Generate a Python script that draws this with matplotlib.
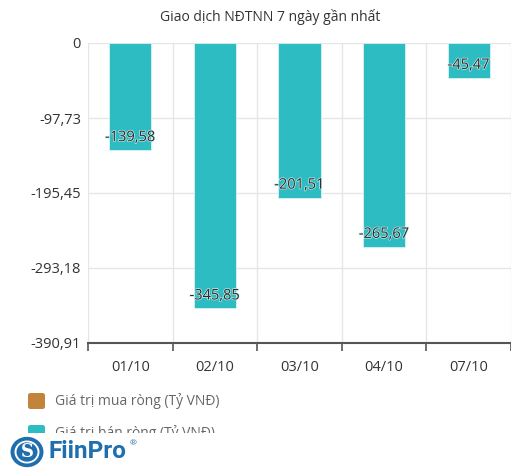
import matplotlib.pyplot as plt
import matplotlib.patheffects as pe
from matplotlib.patches import FancyBboxPatch, Rectangle, Circle

dates = ["01/10", "02/10", "03/10", "04/10", "07/10"]
net_sell = [-139.58, -345.85, -201.51, -265.67, -45.47]
yticks = [0, -97.73, -195.45, -293.18, -390.91]
title = "Giao dịch NĐTNN 7 ngày gần nhất"
legend_labels = ["Giá trị mua ròng (Tỷ VNĐ)", "Giá trị bán ròng (Tỷ VNĐ)"]

teal = "#2ebcc3"
brown = "#c2843a"
W, H = 511, 470

plt.rcParams["font.family"] = ["Open Sans", "DejaVu Sans"]

fig = plt.figure(figsize=(W / 100, H / 100), dpi=100)
ax = fig.add_axes([88 / W, 1 - 343 / H, (W - 88) / W, 300 / H])

x = range(len(dates))
ax.bar(x, net_sell, width=0.5, color=teal, edgecolor="#d8f2f3", linewidth=0.6, zorder=3)

for i, v in enumerate(net_sell):
    lbl = ("%.2f" % v).replace(".", ",")
    ax.annotate(lbl, (i, v), xytext=(0, 9), textcoords="offset points",
                ha="center", va="center", fontsize=10.5, color="#2a2a2a", zorder=4,
                path_effects=[pe.withStroke(linewidth=1.0, foreground="#c8eeee")])

ax.set_xlim(-0.5, len(dates) - 0.5)
ax.set_ylim(yticks[-1], 0)
ax.set_yticks(yticks)
ax.set_yticklabels([("%.2f" % t).replace(".", ",") if t != 0 else "0" for t in yticks])
ax.set_xticks(list(x))
ax.set_xticklabels(dates)
ax.set_xticks([i - 0.5 for i in range(len(dates) + 1)], minor=True)

ax.tick_params(axis="y", length=0, labelsize=10.5, labelcolor="#333333", pad=5)
ax.tick_params(axis="x", which="major", length=0, labelsize=10.5, labelcolor="#333333", pad=12)
ax.tick_params(axis="x", which="minor", length=6, width=1.2, color="#555555")

ax.grid(True, axis="y", color="#e6e6e6", linewidth=1, zorder=0)
ax.grid(True, axis="x", which="minor", color="#e6e6e6", linewidth=1, zorder=0)
for s in ["top", "right", "left"]:
    ax.spines[s].set_visible(False)
ax.spines["bottom"].set_color("#555555")
ax.spines["bottom"].set_linewidth(1.5)

fig.text(270 / W, 1 - 17 / H, title, ha="center", va="center", fontsize=10, color="#333333")

# legend
for k, (lab, col) in enumerate(zip(legend_labels, [brown, teal])):
    yc = 401 + k * 32
    fig.patches.append(FancyBboxPatch((28 / W, 1 - (yc + 8) / H), 17 / W, 16 / H,
                                      boxstyle="round,pad=0,rounding_size=0.005",
                                      transform=fig.transFigure, facecolor=col,
                                      edgecolor="none"))
    fig.text(55 / W, 1 - yc / H, lab, ha="left", va="center", fontsize=10, color="#666666")

# white band hides the cut legend row under the logo
fig.patches.append(Rectangle((0, 0), 1, 1 - 433 / H, transform=fig.transFigure,
                             facecolor="white", edgecolor="none", zorder=5))

blue = "#1f6fae"
fig.patches.append(Circle((27 / W, 1 - 452 / H), 16.5 / W, transform=fig.transFigure,
                          facecolor=blue, edgecolor="none", zorder=6))
fig.patches.append(Circle((27 / W, 1 - 452 / H), 12.5 / W, transform=fig.transFigure,
                          facecolor="white", edgecolor="none", zorder=7))
fig.patches.append(Circle((27 / W, 1 - 452 / H), 10.5 / W, transform=fig.transFigure,
                          facecolor=blue, edgecolor="none", zorder=8))
fig.text(27 / W, 1 - 452 / H, "S", ha="center", va="center", fontsize=13,
         fontweight="bold", color="white", family="DejaVu Serif", zorder=9)
fig.text(49 / W, 1 - 452 / H, "FiinPro", ha="left", va="center", fontsize=17.5,
         fontweight="bold", color=blue, family="Roboto", zorder=9)
fig.text(130 / W, 1 - 444 / H, "®", ha="left", va="center", fontsize=6,
         color=blue, zorder=9)

fig.savefig("out.png", dpi=100)
